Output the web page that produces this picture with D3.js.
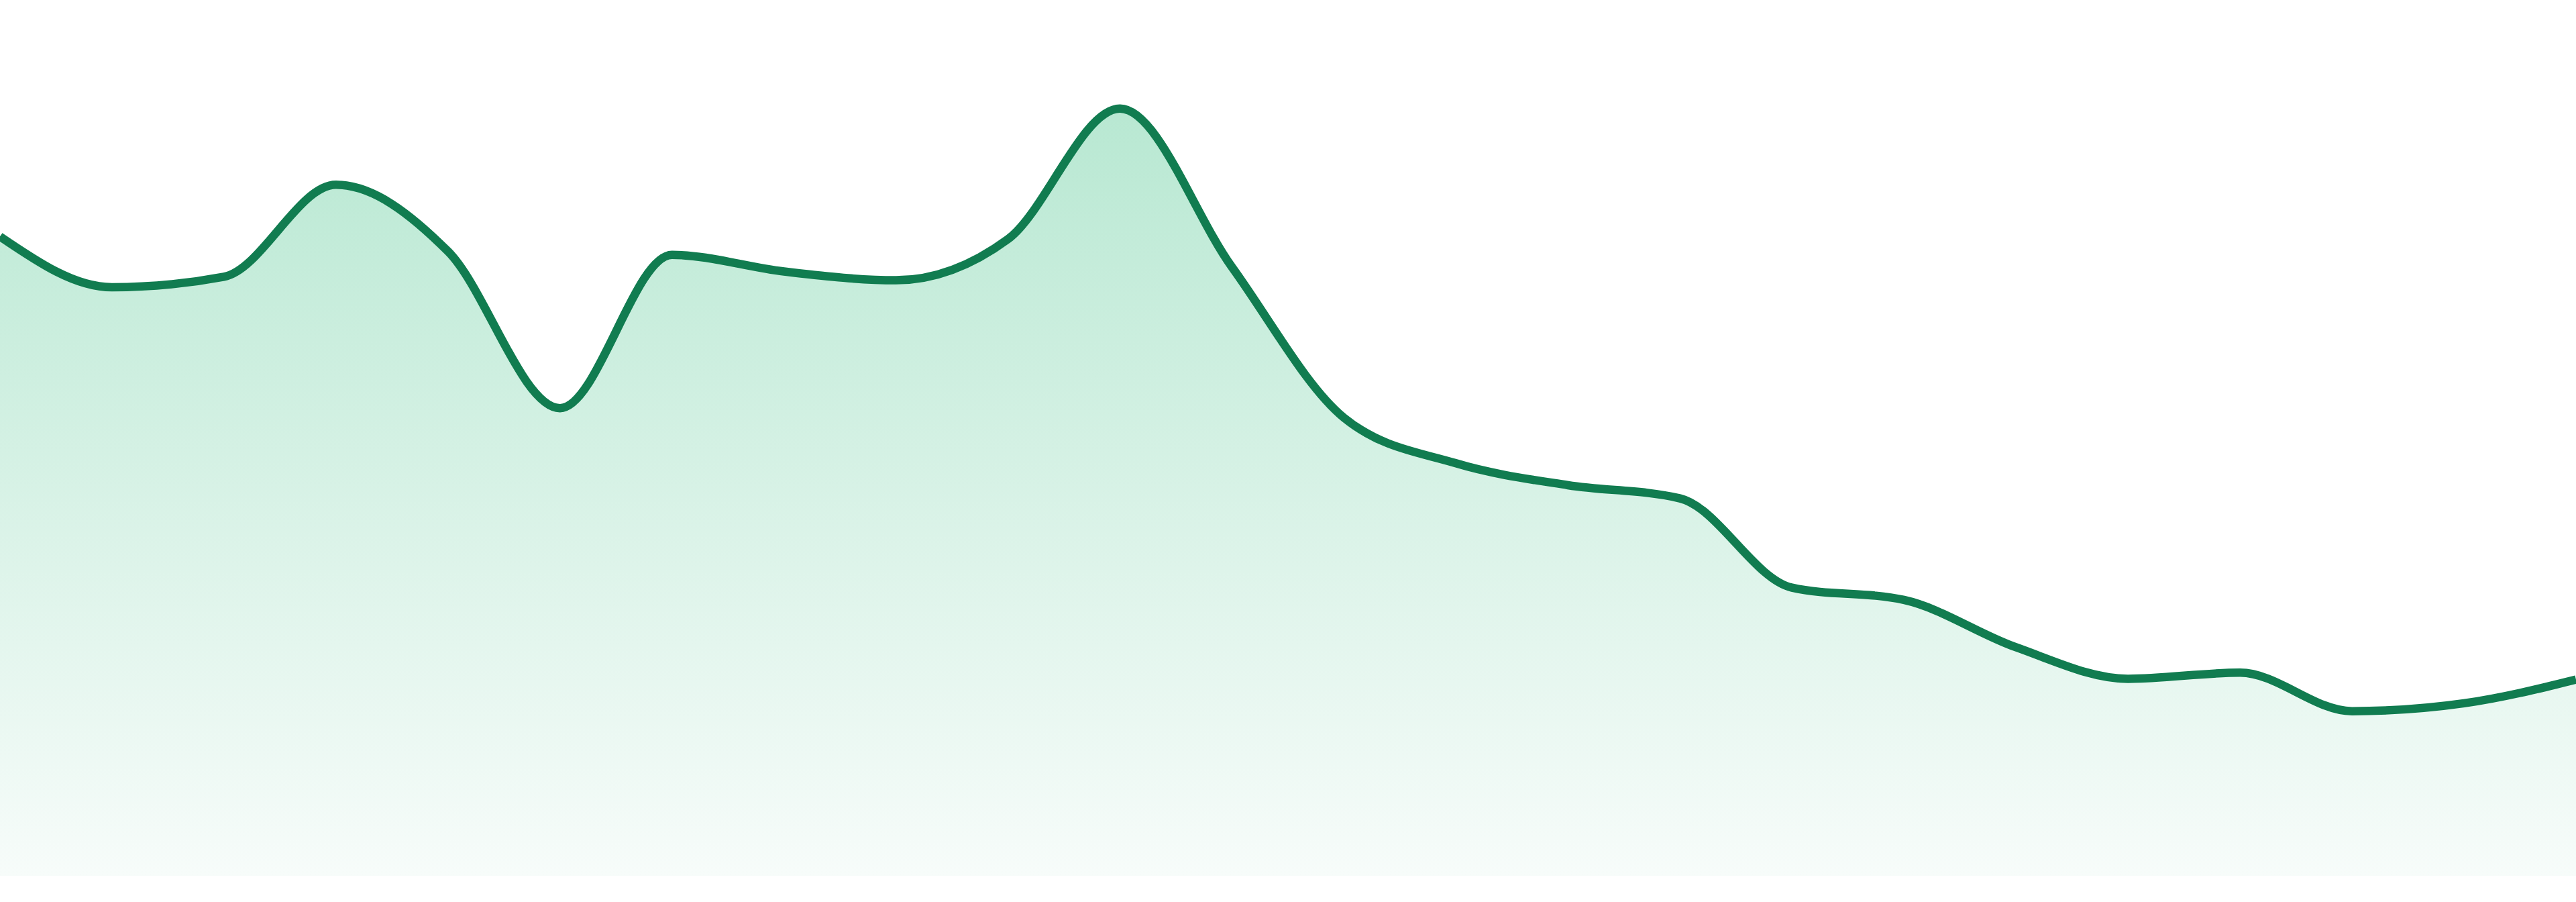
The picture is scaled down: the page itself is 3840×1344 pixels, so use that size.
<!DOCTYPE html>
<html>
<head>
<meta charset="utf-8">
<script src="https://cdn.jsdelivr.net/npm/d3@7"></script>
<style>
  html, body { margin: 0; padding: 0; background: #fff; }
  svg { display: block; }
</style>
</head>
<body>
<div id="chart"></div>
<script>
// values, one per step
const steps = d3.range(24);
const values = [
  73.0, 67.2, 68.4, 78.9, 71.3, 53.4, 70.9, 69.0, 68.0, 72.7, 87.6, 69.5,
  52.3, 47.1, 44.6, 43.1, 32.9, 31.5, 26.1, 22.5, 23.2, 18.8, 19.7, 22.4
];
const yDomain = [0, 100];

const width = 3840;
const height = 1344;
const bottom = 1305;

const svg = d3.select('#chart').append('svg')
  .attr('width', width)
  .attr('height', height);

const x = d3.scaleLinear().domain([0, steps.length - 1]).range([0, width]);
const y = d3.scaleLinear().domain(yDomain).range([bottom, 0]);

const grad = svg.append('defs').append('linearGradient')
  .attr('id', 'fill')
  .attr('x1', 0).attr('y1', 0)
  .attr('x2', 0).attr('y2', 1);
grad.append('stop').attr('offset', '0%').attr('stop-color', 'rgb(184,232,210)');
grad.append('stop').attr('offset', '100%').attr('stop-color', 'rgb(247,252,250)');

const data = steps.map(i => ({ i, v: values[i] }));

const area = d3.area()
  .x(d => x(d.i))
  .y0(y(0))
  .y1(d => y(d.v))
  .curve(d3.curveMonotoneX);

const line = d3.line()
  .x(d => x(d.i))
  .y(d => y(d.v))
  .curve(d3.curveMonotoneX);

svg.append('path')
  .datum(data)
  .attr('fill', 'url(#fill)')
  .attr('d', area);

svg.append('path')
  .datum(data)
  .attr('fill', 'none')
  .attr('stroke', '#117c50')
  .attr('stroke-width', 12.5)
  .attr('stroke-linejoin', 'round')
  .attr('d', line);
</script>
</body>
</html>
